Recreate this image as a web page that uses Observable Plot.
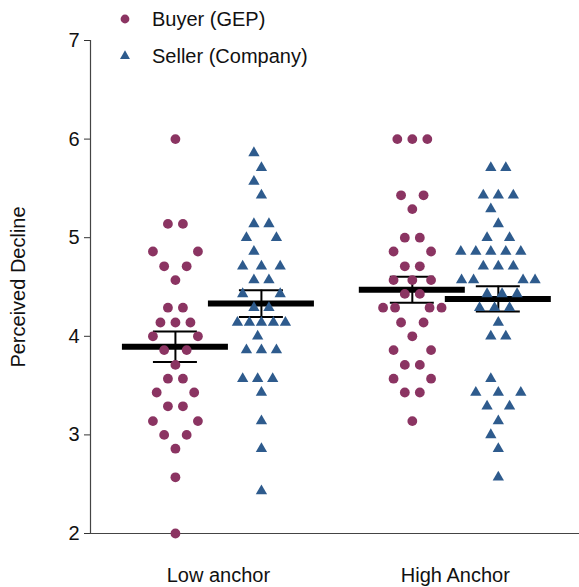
<!DOCTYPE html>
<html>
<head>
<meta charset="utf-8">
<script src="https://cdn.jsdelivr.net/npm/d3@7"></script>
<script src="https://cdn.jsdelivr.net/npm/@observablehq/plot@0.6"></script>
<style>
  html, body { margin: 0; padding: 0; background: #fff; }
  #wrap { position: relative; width: 579px; height: 587px; font-family: "Liberation Sans", Arial, Helvetica, sans-serif; }
  #legend { position: absolute; left: 0; top: 0; }
</style>
</head>
<body>
<div id="wrap"></div>
<script>
// ---- data (ratings are sevenths) ----
const groups = ["Low anchor", "High Anchor"];
const seriesNames = ["Buyer (GEP)", "Seller (Company)"];
const yTicks = [2, 3, 4, 5, 6, 7];

const lowBuyer = [6.00, 5.14, 5.14, 4.86, 4.86, 4.71, 4.71, 4.57, 4.29, 4.29,
  4.14, 4.14, 4.14, 4.00, 4.00, 3.86, 3.86, 3.71, 3.57, 3.57, 3.43, 3.43,
  3.29, 3.29, 3.14, 3.14, 3.00, 3.00, 2.86, 2.57, 2.00];
const lowSeller = [5.86, 5.71, 5.57, 5.43, 5.14, 5.14, 5.00, 5.00, 4.86,
  4.71, 4.71, 4.71, 4.57, 4.57, 4.43, 4.43, 4.29, 4.29,
  4.14, 4.14, 4.14, 4.14, 4.14, 4.00, 3.86, 3.86, 3.86,
  3.57, 3.57, 3.57, 3.43, 3.14, 2.86, 2.43];
const highBuyer = [6.00, 6.00, 6.00, 5.43, 5.43, 5.29, 5.00, 5.00, 4.86, 4.86,
  4.71, 4.71, 4.57, 4.57, 4.57, 4.43, 4.43, 4.29, 4.29, 4.29, 4.29,
  4.14, 4.14, 4.00, 3.86, 3.86, 3.71, 3.71, 3.57, 3.57, 3.43, 3.43, 3.14];
const highSeller = [5.71, 5.71, 5.43, 5.43, 5.43, 5.29, 5.14, 5.00, 5.00,
  4.86, 4.86, 4.86, 4.86, 4.86, 4.71, 4.71, 4.71, 4.57, 4.57, 4.57, 4.57,
  4.43, 4.43, 4.43, 4.29, 4.29, 4.29, 4.14, 4.00, 4.00, 3.57,
  3.43, 3.43, 3.43, 3.29, 3.29, 3.14, 3.00, 2.86, 2.57];

const colors = ["#8b3462", "#2e5b8d"];
const symbols = ["circle", "triangle"];

// ---- layout ----
const W = 579, H = 587, ML = 90, MR = 1, MT = 40, MB = 54;
const FONT = "'Liberation Sans', Arial, Helvetica, sans-serif";
const xDomain = [-0.08, 4.04];
const unitPerPx = (xDomain[1] - xDomain[0]) / (W - ML - MR);
const groupPos = [1, 3];
const seriesOff = [-43 * unitPerPx, 43 * unitPerPx];

// row-wise swarm layout in pixel offsets (computed, not typed)
function candidates(n) {
  const out = [];
  const spacings = n >= 4 ? [15, 12] : [15];
  const gaps = d3.range(0, 31, 3.75);
  const shifts = d3.range(-15, 15.1, 3.75);
  for (const sp of spacings) for (const g of gaps) for (const s of shifts) {
    const xs = d3.range(n).map(i => {
      const b = (i - (n - 1) / 2) * sp;
      return b + Math.sign(b) * g + s;
    });
    out.push(xs);
  }
  return out;
}

function swarm(vals) {
  const rows = d3.group(vals, v => Math.round(v * 7));
  const keys = [...rows.keys()].sort((a, b) => a - b);
  const placed = new Map();
  const res = [];
  for (const key of keys) {
    const rv = rows.get(key);
    const nb = [...(placed.get(key - 1) || []), ...(placed.get(key + 1) || [])];
    let best = null, bestCost = Infinity;
    for (const xs of candidates(rv.length)) {
      const m = d3.max(xs, Math.abs);
      let cost = m / 7.5 + 0.15 * Math.abs(d3.mean(xs)) / 7.5 + Math.max(0, m - 37.5) * 0.6;
      for (const x of xs) for (const q of nb) {
        const d = Math.abs(x - q);
        if (d < 3) cost += 4; else if (d < 6) cost += 1.2; else if (d < 10) cost += 0.5;
      }
      if (cost < bestCost) { bestCost = cost; best = xs; }
    }
    placed.set(key, best);
    rv.forEach((v, i) => res.push({ value: v, dx: best[i] }));
  }
  return res;
}

const sets = [
  { g: 0, s: 0, vals: lowBuyer },
  { g: 0, s: 1, vals: lowSeller },
  { g: 1, s: 0, vals: highBuyer },
  { g: 1, s: 1, vals: highSeller }
];

const points = [];
const stats = [];
for (const set of sets) {
  const cx = groupPos[set.g] + seriesOff[set.s];
  for (const p of swarm(set.vals)) {
    points.push({ series: seriesNames[set.s], x: cx + p.dx * unitPerPx, y: p.value });
  }
  const mean = d3.mean(set.vals);
  const sem = d3.deviation(set.vals) / Math.sqrt(set.vals.length);
  stats.push({ cx, mean, lo: mean - sem, hi: mean + sem });
}

const barHalf = 53 * unitPerPx;
const capHalf = 22 * unitPerPx;

const chart = Plot.plot({
  width: W, height: H,
  marginLeft: ML, marginRight: MR, marginTop: MT, marginBottom: MB,
  x: { domain: xDomain, axis: null },
  y: { domain: [2, 7], axis: null },
  color: { domain: seriesNames, range: colors },
  symbol: { domain: seriesNames, range: symbols },
  style: { fontFamily: FONT, fontSize: "20px", color: "#111", background: "#fff" },
  marks: [
    Plot.axisY({ ticks: yTicks, tickFormat: d3.format("d"), tickSize: 6, tickPadding: 5, fontSize: 20, label: null, stroke: "#333" }),
    Plot.axisX({ ticks: groupPos, tickFormat: (d, i) => groups[i], tickSize: 0, tickPadding: 34, fontSize: 20, label: null }),
    Plot.frame({ anchor: "left", stroke: "#444", strokeWidth: 1.2 }),
    Plot.frame({ anchor: "bottom", stroke: "#444", strokeWidth: 1.2 }),
    Plot.text(["Perceived Decline"], { frameAnchor: "left", rotate: -90, dx: -72, textAnchor: "middle", fontSize: 20, fill: "#111" }),
    Plot.ruleY(stats, { y: "mean", x1: d => d.cx - barHalf, x2: d => d.cx + barHalf, stroke: "#000", strokeWidth: 6 }),
    Plot.ruleX(stats, { x: "cx", y1: "lo", y2: "hi", stroke: "#000", strokeWidth: 2 }),
    Plot.ruleY(stats, { y: "lo", x1: d => d.cx - capHalf, x2: d => d.cx + capHalf, stroke: "#000", strokeWidth: 2 }),
    Plot.ruleY(stats, { y: "hi", x1: d => d.cx - capHalf, x2: d => d.cx + capHalf, stroke: "#000", strokeWidth: 2 }),
    Plot.dot(points.filter(d => d.series === seriesNames[0]), { x: "x", y: "y", fill: "series", symbol: "series", r: 4.9, stroke: "none" }),
    Plot.dot(points.filter(d => d.series === seriesNames[1]), { x: "x", y: "y", fill: "series", symbol: "series", r: 4.2, stroke: "none" })
  ]
});

const wrap = document.getElementById("wrap");
wrap.appendChild(chart);

// legend overlay
const ns = "http://www.w3.org/2000/svg";
const lg = document.createElementNS(ns, "svg");
lg.setAttribute("id", "legend");
lg.setAttribute("width", 340);
lg.setAttribute("height", 75);
const legendRows = [19, 56];
seriesNames.forEach((name, i) => {
  const y = legendRows[i];
  if (symbols[i] === "circle") {
    const c = document.createElementNS(ns, "circle");
    c.setAttribute("cx", 125); c.setAttribute("cy", y); c.setAttribute("r", 4.4);
    c.setAttribute("fill", colors[i]);
    lg.appendChild(c);
  } else {
    const p = document.createElementNS(ns, "path");
    p.setAttribute("d", d3.symbol(d3.symbolTriangle, Math.PI * 3.7 * 3.7)());
    p.setAttribute("transform", `translate(125,${y})`);
    p.setAttribute("fill", colors[i]);
    lg.appendChild(p);
  }
  const t = document.createElementNS(ns, "text");
  t.setAttribute("x", 152); t.setAttribute("y", y);
  t.setAttribute("dy", "0.35em");
  t.setAttribute("font-size", "20px");
  t.setAttribute("fill", "#111");
  t.setAttribute("font-family", FONT);
  t.textContent = name;
  lg.appendChild(t);
});
wrap.appendChild(lg);
</script>
</body>
</html>
